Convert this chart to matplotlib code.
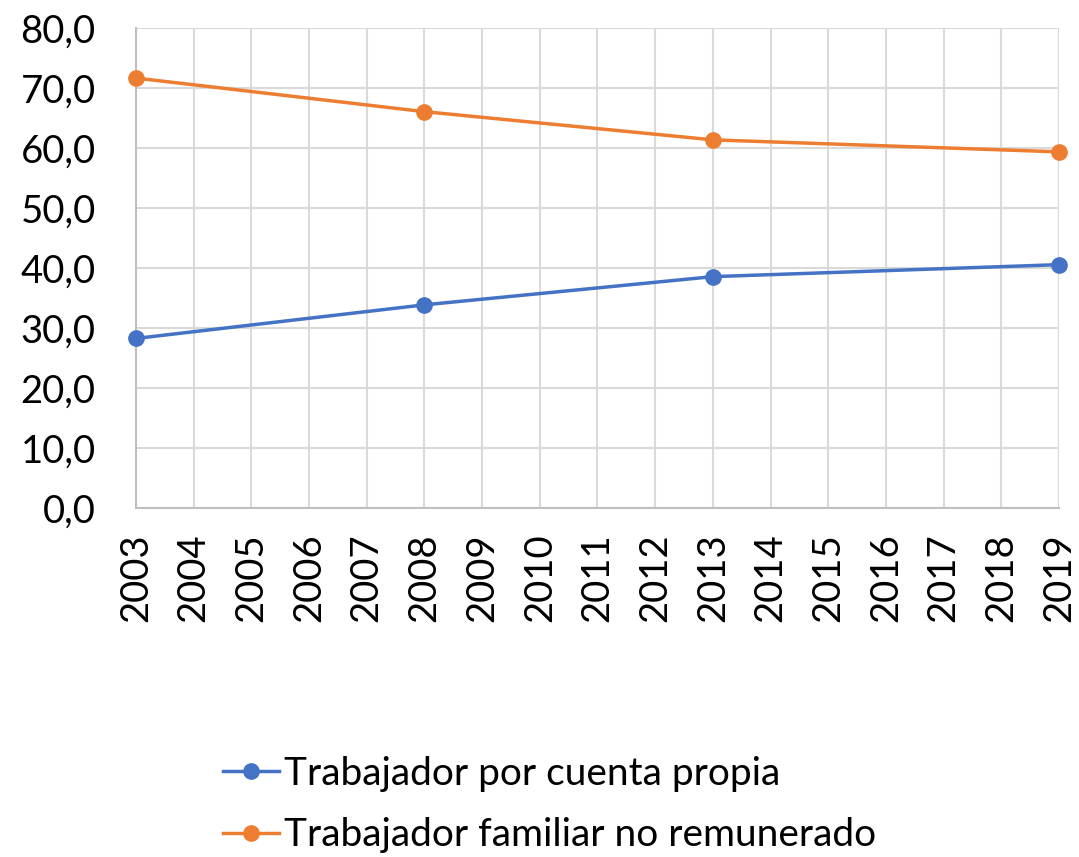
import matplotlib
matplotlib.use('Agg')
import matplotlib.pyplot as plt
from matplotlib.ticker import FuncFormatter, MultipleLocator

plt.rcParams['font.family'] = ['Lato', 'DejaVu Sans']

# data
years = [2003, 2008, 2013, 2019]
cuenta_propia = [28.3, 33.9, 38.6, 40.6]
familiar_no_rem = [71.7, 66.1, 61.4, 59.4]
year_ticks = list(range(2003, 2020))
labels = ['Trabajador por cuenta propia', 'Trabajador familiar no remunerado']

fig = plt.figure(figsize=(10.79, 8.57), dpi=100)
ax = fig.add_axes([0.126, 0.407, 0.8555, 0.560])

ax.plot(years, cuenta_propia, color='#4472C4', linewidth=2.5, marker='o',
        markersize=11, label=labels[0], clip_on=False, zorder=3)
ax.plot(years, familiar_no_rem, color='#ED7D31', linewidth=2.5, marker='o',
        markersize=11, label=labels[1], clip_on=False, zorder=3)

ax.set_xlim(2003, 2019)
ax.set_ylim(0, 80)
ax.set_xticks(year_ticks)
ax.set_xticklabels([str(y) for y in year_ticks], rotation=90)
ax.yaxis.set_major_locator(MultipleLocator(10))
ax.yaxis.set_major_formatter(FuncFormatter(lambda v, p: f'{v:.1f}'.replace('.', ',')))

ax.tick_params(axis='both', length=0, labelsize=27.5, colors='black')
ax.tick_params(axis='x', pad=18)
ax.tick_params(axis='y', pad=29)

ax.grid(True, color='#d9d9d9', linewidth=1.5)
ax.set_axisbelow(True)
for side in ['top', 'right']:
    ax.spines[side].set_visible(False)
for side in ['left', 'bottom']:
    ax.spines[side].set_color('#bfbfbf')
    ax.spines[side].set_linewidth(1.5)

fig.legend(loc='center', bbox_to_anchor=(0.509, 0.061), frameon=False,
           fontsize=28, handlelength=1.45, handletextpad=0.12,
           labelspacing=0.65, borderpad=0)

fig.savefig('out.png', dpi=100)
plt.close(fig)
